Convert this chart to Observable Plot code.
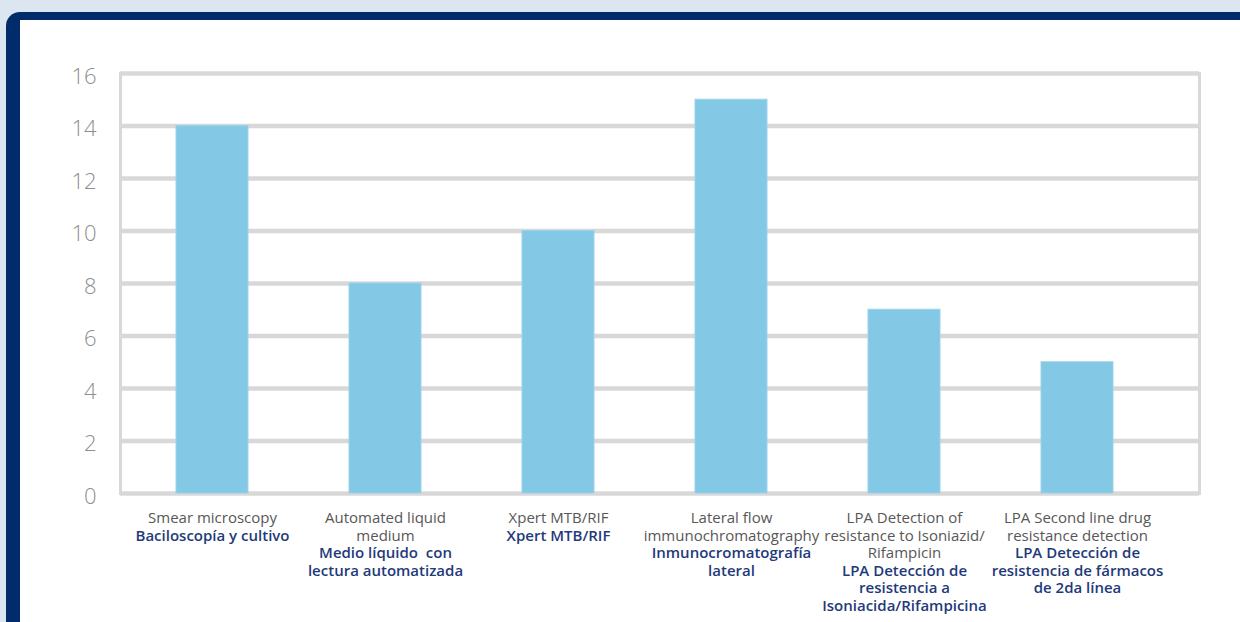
<!DOCTYPE html>
<html>
<head>
<meta charset="utf-8">
<script src="https://cdn.jsdelivr.net/npm/d3@7"></script>
<script src="https://cdn.jsdelivr.net/npm/@observablehq/plot@0.6"></script>
<style>
  html, body { margin: 0; padding: 0; }
  body { width: 1240px; height: 622px; overflow: hidden; background: #dce6f1; position: relative; font-family: "Open Sans", sans-serif; }
  #frame { position: absolute; left: 6px; top: 12px; width: 1300px; height: 700px; background: #022b6b; border-top-left-radius: 14px; }
  #inner { position: absolute; left: 20px; top: 20px; width: 1300px; height: 700px; background: #ffffff; }
  #chart { position: absolute; left: 0; top: 0; }
</style>
</head>
<body>
<div id="frame"></div>
<div id="inner"></div>
<div id="chart"></div>
<script>
const categories = ["smear", "liquid", "xpert", "lateral", "lpa1", "lpa2"];
const labelsEn = [
  "Smear microscopy",
  "Automated liquid\nmedium",
  "Xpert MTB/RIF",
  "Lateral flow\nimmunochromatography",
  "LPA Detection of\nresistance to Isoniazid/\nRifampicin",
  "LPA Second line drug\nresistance detection"
];
const labelsEs = [
  "Baciloscopía y cultivo",
  "Medio líquido  con\nlectura automatizada",
  "Xpert MTB/RIF",
  "Inmunocromatografía\nlateral",
  "LPA Detección de\nresistencia a\nIsoniacida/Rifampicina",
  "LPA Detección de\nresistencia de fármacos\nde 2da línea"
];
const values = [14, 8, 10, 15, 7, 5];
const yTicks = [0, 2, 4, 6, 8, 10, 12, 14, 16];

const data = categories.map((c, i) => ({cat: c, value: values[i], en: labelsEn[i], es: labelsEs[i], nEn: labelsEn[i].split("\n").length}));

const fontSize = 15;
const lineH = 17.5;
const baseDy = 17.5;

const textMarks = [];
textMarks.push(Plot.text(data, {
  x: "cat", y: () => 0, text: "en", lineAnchor: "top", dy: baseDy,
  fontSize, lineHeight: lineH / fontSize, fill: "#575757", fontFamily: "Open Sans", textAnchor: "middle"
}));
for (const n of [1, 2, 3]) {
  const subset = data.filter(d => d.nEn === n);
  if (!subset.length) continue;
  textMarks.push(Plot.text(subset, {
    x: "cat", y: () => 0, text: "es", lineAnchor: "top", dy: baseDy + n * lineH,
    fontSize, lineHeight: lineH / fontSize, fill: "#1f3a7a", fontWeight: 600, fontFamily: "Open Sans", textAnchor: "middle"
  }));
}

const chart = Plot.plot({
  width: 1240,
  height: 622,
  marginLeft: 120,
  marginRight: 41,
  marginTop: 73,
  marginBottom: 129,
  style: {background: "transparent", overflow: "visible"},
  x: {type: "band", domain: categories, range: [125.5, 1163.5], paddingInner: 0.584, paddingOuter: 0.292, round: false, axis: null},
  y: {domain: [0, 16], axis: null},
  marks: [
    Plot.ruleY(yTicks, {stroke: "#d8d8d8", strokeWidth: 4.5}),
    Plot.frame({stroke: "#d8d8d8", strokeWidth: 3}),
    Plot.barY(data, {x: "cat", y: "value", fill: "#83c8e4", stroke: "#9bd3ea", strokeWidth: 1}),
    Plot.axisY({ticks: yTicks, tickSize: 0, tickPadding: 24, fontSize: 22, fill: "#8e8e8e", fontWeight: 300, fontFamily: "Open Sans", label: null, dy: 3}),
    ...textMarks
  ]
});
document.getElementById("chart").appendChild(chart);
</script>
</body>
</html>
